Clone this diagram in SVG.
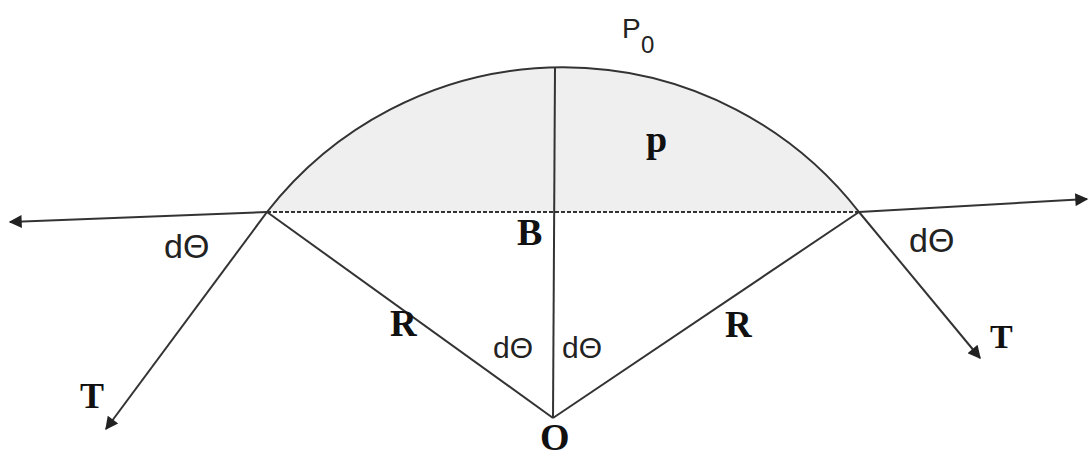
<svg xmlns="http://www.w3.org/2000/svg" width="1089" height="461" viewBox="0 0 1089 461">
<style>
.ln{stroke:#333;stroke-width:2;fill:none}
.sans{font-family:"Liberation Sans",Arial,sans-serif;fill:#222}
.serif{font-family:"Liberation Serif","Times New Roman",serif;font-weight:bold;fill:#111}
</style>
<defs>
<marker id="ah" viewBox="0 0 10 10" refX="9" refY="5" markerWidth="8" markerHeight="6.5" markerUnits="strokeWidth" orient="auto">
<path d="M0,0 L10,5 L0,10 Z" fill="#222"/>
</marker>
</defs>
<rect width="1089" height="461" fill="#fff"/>
<g id="segment">
<path d="M267,212 A375,375 0 0 1 859,212 Z" fill="#efefef" stroke="none"/>
<path class="ln" d="M267,212 A375,375 0 0 1 859,212"/>
</g>
<g id="connectors">
<line class="ln" x1="267" y1="212" x2="859" y2="212" stroke-dasharray="4,2"/>
<line class="ln" x1="267" y1="212" x2="10" y2="222" marker-end="url(#ah)"/>
<line class="ln" x1="859" y1="212" x2="1087" y2="199" marker-end="url(#ah)"/>
<line class="ln" x1="555" y1="67" x2="553" y2="418"/>
<line class="ln" x1="267" y1="212" x2="553" y2="418"/>
<line class="ln" x1="859" y1="212" x2="553" y2="418"/>
<line class="ln" x1="267" y1="212" x2="106" y2="429" marker-end="url(#ah)"/>
<line class="ln" x1="859" y1="212" x2="980" y2="358" marker-end="url(#ah)"/>
</g>
<g id="labels">
<text class="sans" x="622" y="38" font-size="28">P<tspan x="641" y="53" font-size="24">0</tspan></text>
<text class="serif" x="646" y="152" font-size="38">p</text>
<text class="serif" x="517" y="245" font-size="38">B</text>
<text class="serif" x="390" y="336" font-size="37">R</text>
<text class="serif" x="725" y="337" font-size="37">R</text>
<text class="serif" x="540" y="450" font-size="38">O</text>
<text class="serif" x="80" y="408" font-size="36">T</text>
<text class="serif" x="990" y="348" font-size="34">T</text>
<text class="sans" x="164" y="258" font-size="34">dΘ</text>
<text class="sans" x="909" y="252" font-size="34">dΘ</text>
<text class="sans" x="493" y="358" font-size="30">dΘ</text>
<text class="sans" x="562" y="358" font-size="30">dΘ</text>
</g>
</svg>
